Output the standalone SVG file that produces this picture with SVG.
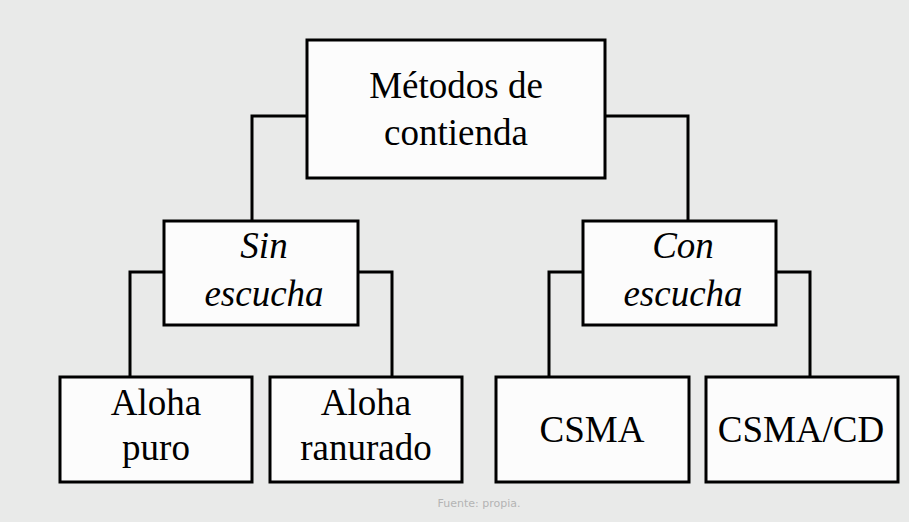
<svg xmlns="http://www.w3.org/2000/svg" width="909" height="522" viewBox="0 0 909 522">
<style>
.bg{fill:#e9eae9}
.box{fill:#fcfcfc;stroke:#000;stroke-width:3}
.lbl{font-family:"Liberation Serif","Times New Roman",serif;font-size:37px;fill:#000;text-anchor:middle}
.it{font-style:italic}
.conn{fill:none;stroke:#000;stroke-width:3}
.src{font-family:"DejaVu Sans","Liberation Sans",sans-serif;font-size:11px;fill:#b4b4b4;text-anchor:middle}
</style>
<rect class="bg" x="0" y="0" width="909" height="522"/>
<g id="connectors">
<path class="conn" d="M307,116 H252 V221"/>
<path class="conn" d="M605,116 H688 V221"/>
<path class="conn" d="M164,272 H130 V377"/>
<path class="conn" d="M358,272 H392 V377"/>
<path class="conn" d="M583,272 H549 V377"/>
<path class="conn" d="M776,272 H810 V377"/>
</g>
<g id="metodos">
<rect class="box" x="307" y="40" width="298" height="138"/>
<text class="lbl" x="456" y="98">Métodos de</text>
<text class="lbl" x="456" y="145">contienda</text>
</g>
<g id="sin">
<rect class="box" x="164" y="221" width="194" height="104"/>
<text class="lbl it" x="264" y="258">Sin</text>
<text class="lbl it" x="264" y="306">escucha</text>
</g>
<g id="con">
<rect class="box" x="583" y="221" width="193" height="104"/>
<text class="lbl it" x="683" y="258">Con</text>
<text class="lbl it" x="683" y="306">escucha</text>
</g>
<g id="aloha-puro">
<rect class="box" x="60" y="377" width="192" height="105"/>
<text class="lbl" x="156" y="415">Aloha</text>
<text class="lbl" x="156" y="460">puro</text>
</g>
<g id="aloha-ranurado">
<rect class="box" x="270" y="377" width="192" height="105"/>
<text class="lbl" x="366" y="415">Aloha</text>
<text class="lbl" x="366" y="460">ranurado</text>
</g>
<g id="csma">
<rect class="box" x="496" y="377" width="193" height="105"/>
<text class="lbl" x="592" y="442">CSMA</text>
</g>
<g id="csmacd">
<rect class="box" x="706" y="377" width="192" height="105"/>
<text class="lbl" x="801" y="442">CSMA/CD</text>
</g>
<text class="src" x="479" y="507">Fuente: propia.</text>
</svg>
